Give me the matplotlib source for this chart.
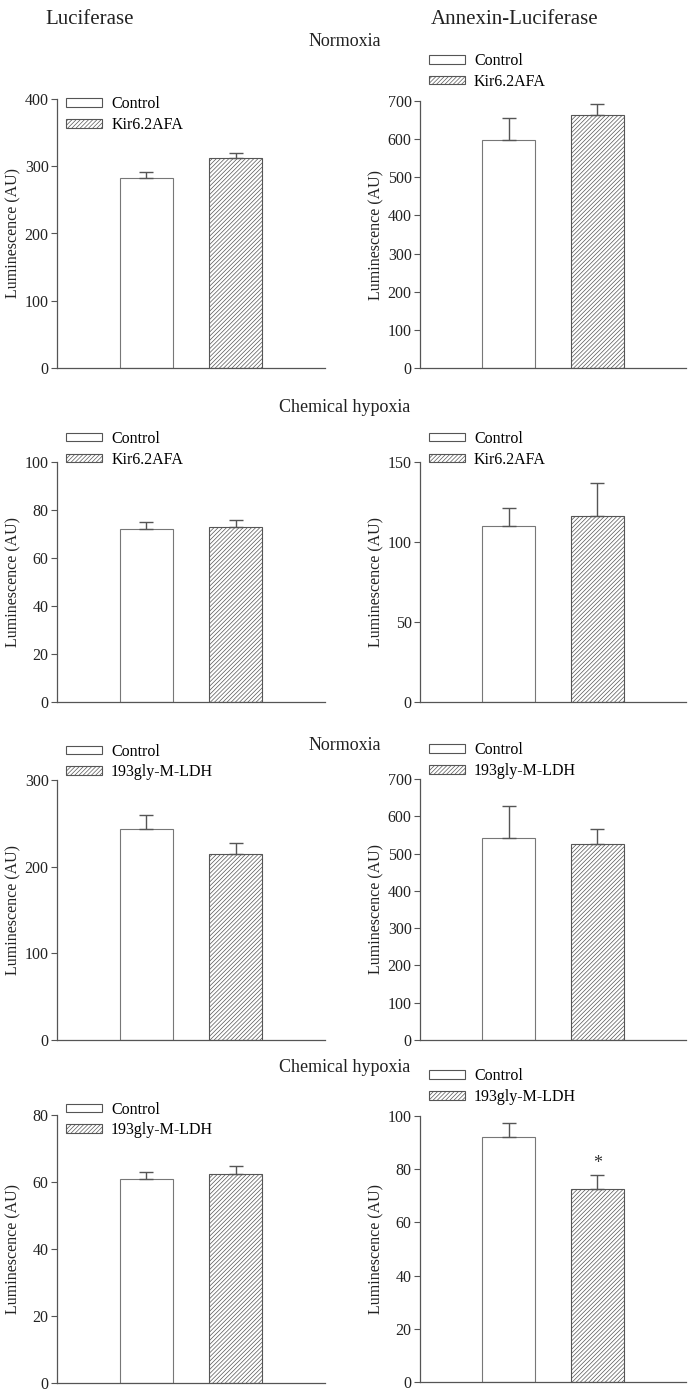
import matplotlib
matplotlib.use('Agg')
import matplotlib.pyplot as plt
from matplotlib.patches import Patch

plt.rcParams['font.family'] = ['Liberation Serif', 'DejaVu Serif']
plt.rcParams['hatch.linewidth'] = 0.5
plt.rcParams['hatch.color'] = '#6a6a6a'

W, H = 691, 1394

# one entry per panel: (control mean, treated mean), (control sem, treated sem)
means = [(283, 312), (597, 662), (72, 73), (110, 116),
         (243, 215), (541, 527), (61, 62.5), (92, 72.5)]
errs = [(9, 7), (58, 30), (2.8, 2.8), (11, 21),
        (17, 12), (86, 40), (2.0, 2.3), (5.5, 5.5)]
ymax = [400, 700, 100, 150, 300, 700, 80, 100]
ystep = [100, 100, 20, 50, 100, 100, 20, 20]
treated = ['Kir6.2AFA', 'Kir6.2AFA', 'Kir6.2AFA', 'Kir6.2AFA',
           '193gly-M-LDH', '193gly-M-LDH', '193gly-M-LDH', '193gly-M-LDH']
stars = [None, None, None, None, None, None, None, '*']

# axes boxes in pixels: x0, x1, ytop, ybottom
boxes = [(57, 325, 99, 368), (420, 686, 101, 368),
         (57, 325, 462, 702), (420, 686, 462, 702),
         (57, 325, 780, 1040), (420, 686, 779, 1040),
         (57, 325, 1115, 1383), (420, 686, 1116, 1382)]
legend_y = [1.01, 1.18, 1.13, 1.13, 1.14, 1.14, 1.05, 1.18]

fig = plt.figure(figsize=(W / 100, H / 100), dpi=100)
grey = '#555555'

for i in range(8):
    x0, x1, yt, yb = boxes[i]
    ax = fig.add_axes([x0 / W, 1 - yb / H, (x1 - x0) / W, (yb - yt) / H])
    m = means[i]
    e = errs[i]
    ax.bar([1], [m[0]], width=0.6, color='white', edgecolor='#777777', linewidth=0.8)
    ax.bar([2], [m[1]], width=0.6, color='white', edgecolor=grey, linewidth=0.8, hatch='////////')
    ax.errorbar([1, 2], list(m), yerr=[[0, 0], list(e)], fmt='none',
                ecolor=grey, elinewidth=1, capsize=5, capthick=1)
    if stars[i]:
        ax.text(2, m[1] + e[1] + 1, stars[i], ha='center', va='bottom', fontsize=13, color='#333333')
    ax.set_xlim(0, 3)
    ax.set_ylim(0, ymax[i])
    ax.set_yticks(range(0, ymax[i] + 1, ystep[i]))
    ax.set_xticks([])
    for s in ['top', 'right']:
        ax.spines[s].set_visible(False)
    for s in ['left', 'bottom']:
        ax.spines[s].set_color(grey)
        ax.spines[s].set_linewidth(0.9)
    ax.tick_params(axis='y', direction='out', length=4, color=grey, labelsize=11.5,
                   labelcolor='#222222', pad=2)
    ax.set_ylabel('Luminescence (AU)', fontsize=11.5, color='#222222')
    lx = 21 if i % 2 == 0 else 384
    ax.yaxis.set_label_coords((lx - x0) / (x1 - x0), 0.5)
    handles = [Patch(facecolor='white', edgecolor=grey, linewidth=0.8, label='Control'),
               Patch(facecolor='white', edgecolor=grey, linewidth=0.8, hatch='////////', label=treated[i])]
    ax.legend(handles=handles, loc='upper left', bbox_to_anchor=(0.035, legend_y[i]),
              frameon=False, fontsize=11.5, handlelength=2.25, handleheight=0.45,
              borderpad=0, borderaxespad=0, labelspacing=0.3, handletextpad=0.55)

fig.text(90 / W, 1 - 20 / H, 'Luciferase', ha='center', va='center', fontsize=15, color='#222222')
fig.text(515 / W, 1 - 20 / H, 'Annexin-Luciferase', ha='center', va='center', fontsize=15, color='#222222')
for y, t in [(42, 'Normoxia'), (408, 'Chemical hypoxia'), (745, 'Normoxia'), (1068, 'Chemical hypoxia')]:
    fig.text(345 / W, 1 - y / H, t, ha='center', va='center', fontsize=13, color='#222222')

fig.savefig('out.png', dpi=100)
